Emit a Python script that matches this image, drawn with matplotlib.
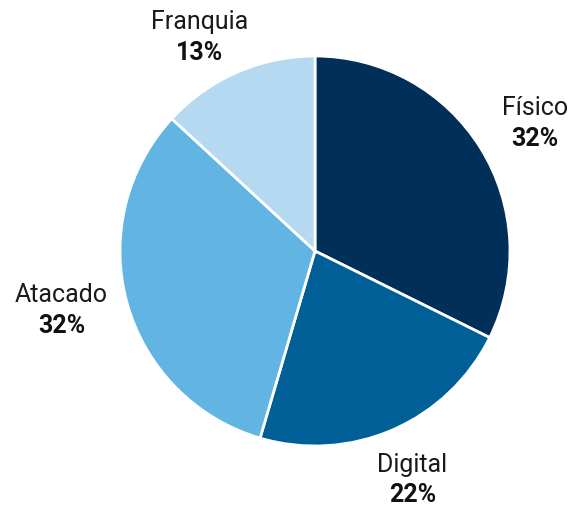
import numpy as np
import matplotlib
matplotlib.use('Agg')
import matplotlib.pyplot as plt

plt.rcParams['font.family'] = ['Roboto', 'DejaVu Sans']

# data
labels = ['Físico', 'Digital', 'Atacado', 'Franquia']
values = [32, 22, 32, 13]
pct_labels = ['32%', '22%', '32%', '13%']
colors = ['#002F5A', '#005F96', '#62B4E3', '#B5D9F0']

# label anchor points (axes data units, pie radius = 1)
label_pos = [(1.13, 0.66), (0.50, -1.17), (-1.30, -0.30), (-0.59, 1.10)]

fig = plt.figure(figsize=(5.75, 5.10), dpi=100)
ax = fig.add_axes([120 / 575, 63 / 510, 390 / 575, 390 / 510])

wedges, _ = ax.pie(values, colors=colors, startangle=90, counterclock=False,
                   radius=1.0, wedgeprops=dict(edgecolor='white', linewidth=2))

# name on top, bold percent below
for (x, y), name, pct in zip(label_pos, labels, pct_labels):
    ax.text(x, y + 0.078, name, ha='center', va='center', fontsize=18, color='#1a1a1a')
    ax.text(x, y - 0.078, pct, ha='center', va='center', fontsize=18,
            fontweight='bold', color='#111111')

ax.set_xlim(-1, 1)
ax.set_ylim(-1, 1)
ax.set_aspect('equal')
ax.axis('off')

fig.savefig('out.png', dpi=100)
